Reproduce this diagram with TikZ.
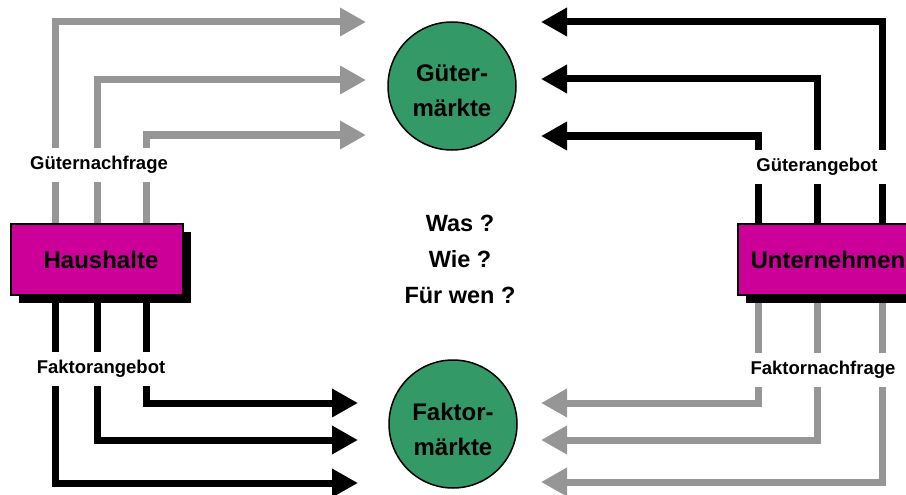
\documentclass[tikz,border=0pt]{standalone}
\usepackage{fontspec}
\setmainfont{Liberation Sans}
\usetikzlibrary{arrows.meta,shadows,backgrounds}
\definecolor{mkgreen}{RGB}{51,153,102}
\definecolor{agmag}{RGB}{204,0,153}
\definecolor{flowgrey}{RGB}{150,150,150}
\begin{document}
\begin{tikzpicture}[x=1pt,y=-1pt,
  flow/.style={line width=7pt, line join=miter, -{Triangle[length=26pt,width=27pt]}},
  gflow/.style={flow, draw=flowgrey},
  bflow/.style={flow, draw=black},
  agent/.style={draw=black, line width=1.2pt, fill=agmag, minimum width=172pt, minimum height=71pt, inner sep=0pt,
    font=\fontsize{24}{28}\selectfont\bfseries,
    drop shadow={shadow xshift=8pt, shadow yshift=-8pt, fill=black, opacity=1}},
  market/.style={circle, draw=black, line width=1.5pt, fill=mkgreen, minimum size=128pt, inner sep=0pt},
  mtext/.style={align=center, inner sep=0pt, font=\fontsize{24}{35}\selectfont\bfseries},
  flowlabel/.style={fill=white, inner xsep=8pt, minimum height=34pt, font=\fontsize{18.5}{22}\selectfont\bfseries}
]
\clip (0,0) rectangle (906,495);

% agents
\node[agent] (hh) at (97,259.5) {\hspace*{8pt}Haushalte};
\node[agent] (un) at (824,259.5) {\hspace*{8pt}Unternehmen};

% markets
\node[market] (gm) at (452,86) {};
\node[mtext] (gmt) at ([yshift=-5pt]gm.center) {Güter-\\märkte};
\node[market] (fm) at (453,424) {};
\node[mtext] (fmt) at ([yshift=-5pt]fm.center) {Faktor-\\märkte};

% questions
\node[align=center, font=\fontsize{23.5}{36}\selectfont\bfseries] (q) at (460,259) {Was ?\\Wie ?\\Für wen ?};

% arrow tips
\coordinate (gL1) at (366,22);
\coordinate (gL2) at (366,80);
\coordinate (gL3) at (366,135);
\coordinate (gR1) at (541,22);
\coordinate (gR2) at (541,79);
\coordinate (gR3) at (541,136);
\coordinate (fL1) at (358,403);
\coordinate (fL2) at (358,440);
\coordinate (fL3) at (358,483);
\coordinate (fR1) at (541,403);
\coordinate (fR2) at (541,440);
\coordinate (fR3) at (541,482);

\begin{scope}[on background layer]
  % Haushalte -> Gütermärkte
  \draw[gflow] ([xshift=-42pt]hh.center) |- (gL1);
  \draw[gflow] (hh.center) |- (gL2);
  \draw[gflow] ([xshift=49pt]hh.center) |- (gL3);
  % Haushalte -> Faktormärkte
  \draw[bflow] ([xshift=49pt]hh.center) |- (fL1);
  \draw[bflow] (hh.center) |- (fL2);
  \draw[bflow] ([xshift=-42pt]hh.center) |- (fL3);
  % Unternehmen -> Gütermärkte
  \draw[bflow] ([xshift=58pt]un.center) |- (gR1);
  \draw[bflow] ([xshift=-7pt]un.center) |- (gR2);
  \draw[bflow] ([xshift=-66pt]un.center) |- (gR3);
  % Unternehmen -> Faktormärkte
  \draw[gflow] ([xshift=-66pt]un.center) |- (fR1);
  \draw[gflow] ([xshift=-7pt]un.center) |- (fR2);
  \draw[gflow] ([xshift=58pt]un.center) |- (fR3);
\end{scope}

% flow labels
\node[flowlabel] (gn) at (99,165) {Güternachfrage};
\node[flowlabel] (ga) at (817,167) {Güterangebot};
\node[flowlabel] (fa) at (101,369) {Faktorangebot};
\node[flowlabel] (fn) at (823,370) {Faktornachfrage};
\end{tikzpicture}
\end{document}
